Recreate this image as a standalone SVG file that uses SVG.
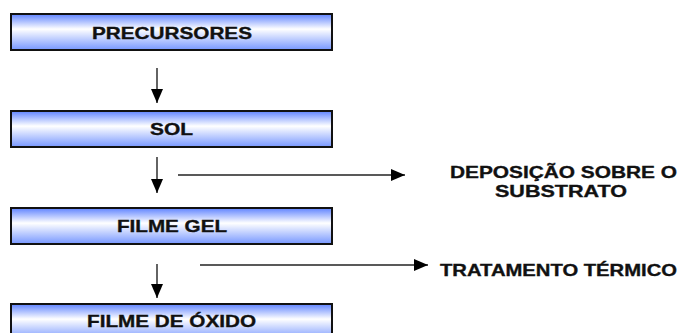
<svg xmlns="http://www.w3.org/2000/svg" width="689" height="333" viewBox="0 0 689 333">
<defs>
<linearGradient id="g" x1="0" y1="0" x2="0" y2="1">
<stop offset="0" stop-color="#5f83ff"/>
<stop offset="0.42" stop-color="#ffffff"/>
<stop offset="1" stop-color="#7797ff"/>
</linearGradient>
<marker id="ah" markerUnits="userSpaceOnUse" markerWidth="14" markerHeight="12" refX="14" refY="6" orient="auto">
<path d="M0,0 L14,6 L0,12 z" fill="#000"/>
</marker>
<style>
.box{fill:url(#g);stroke:#111;stroke-width:2}
.t{font-family:"Liberation Sans",Arial,sans-serif;font-weight:bold;font-size:16.5px;fill:#111;stroke:#111;stroke-width:0.35}
.c{stroke:#222;stroke-width:1.4;fill:none;marker-end:url(#ah)}
</style>
</defs>
<rect width="689" height="333" fill="#fff"/>
<g id="precursores">
<rect class="box" x="11" y="14" width="321" height="36"/>
<text class="t" x="92" y="38.5" textLength="160" lengthAdjust="spacingAndGlyphs">PRECURSORES</text>
</g>
<g id="sol">
<rect class="box" x="11" y="111" width="321" height="36"/>
<text class="t" x="150" y="134.5" textLength="43" lengthAdjust="spacingAndGlyphs">SOL</text>
</g>
<g id="filme-gel">
<rect class="box" x="11" y="208" width="321" height="36"/>
<text class="t" x="117" y="231.5" textLength="110" lengthAdjust="spacingAndGlyphs">FILME GEL</text>
</g>
<g id="filme-oxido">
<rect class="box" x="11" y="304" width="321" height="36"/>
<text class="t" x="87" y="327" textLength="169" lengthAdjust="spacingAndGlyphs">FILME DE ÓXIDO</text>
</g>
<g id="deposicao">
<text class="t" x="450" y="177.5" textLength="227" lengthAdjust="spacingAndGlyphs">DEPOSIÇÃO SOBRE O</text>
<text class="t" x="495" y="196.5" textLength="132" lengthAdjust="spacingAndGlyphs">SUBSTRATO</text>
</g>
<g id="tratamento">
<text class="t" x="440" y="276" textLength="237" lengthAdjust="spacingAndGlyphs">TRATAMENTO TÉRMICO</text>
</g>
<g id="connectors">
<line class="c" x1="157" y1="68" x2="157" y2="103"/>
<line class="c" x1="157" y1="157" x2="157" y2="193"/>
<line class="c" x1="157" y1="264" x2="157" y2="298"/>
<line class="c" x1="178" y1="175" x2="405" y2="175"/>
<line class="c" x1="200" y1="265" x2="428" y2="265"/>
</g>
</svg>
